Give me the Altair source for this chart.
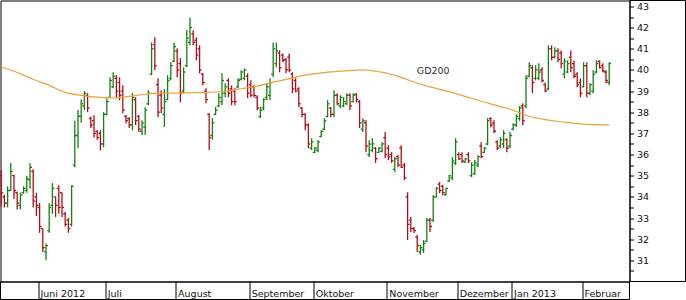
import altair as alt
import pandas as pd

# ---------------- data ----------------
opens = (
    [35.0, 34.0, 33.7, 34.3, 35.0, 34.2, 33.6, 34.2, 34.3, 34.8, 35.2, 34.0]
    + [33.5, 32.5, 31.4, 32.4, 33.6, 34.0, 34.4, 34.2, 33.2, 32.9, 32.7, 35.5, 36.9, 37.8, 38.3, 38.8, 37.7, 37.6, 37.1, 37.0, 36.5]
    + [37.9, 38.7, 39.2, 39.6, 39.4, 39.0, 37.8, 37.7, 37.4, 38.6, 37.8, 37.1, 37.3, 38.4, 39.8, 41.2, 39.3, 38.8, 37.9, 38.6, 39.6, 40.4]
    + [40.9, 40.3, 39.0, 40.2, 41.3, 41.7, 41.4, 41.0, 39.8, 39.0, 37.9, 36.9, 37.9, 38.3, 38.5, 38.9, 39.5, 39.1, 39.0, 39.2, 39.55, 39.6, 39.7]
    + [39.3, 39.2, 38.7, 37.8, 38.2, 38.7, 38.8, 39.8, 40.3, 40.8, 40.7, 40.5, 40.6, 39.8, 39.5, 39.1, 38.2, 37.9, 37.4, 36.3]
    + [36.1, 36.2, 36.85, 37.2, 37.8, 38.2, 37.9, 38.8, 38.3, 38.3, 38.4, 38.8, 38.5, 38.85, 38.5, 37.2, 37.5, 36.0, 36.2, 36.3, 36.1, 36.15, 36.8]
    + [36.3, 36.0, 35.3, 35.9, 36.3, 35.5, 34.0, 32.9, 32.5, 32.1, 31.4, 31.5, 31.9, 32.9, 32.9, 34.0, 34.6, 34.5, 34.1, 34.75, 34.9, 35.6]
    + [36.0, 36.0, 35.65, 36.0, 35.0, 35.1, 35.5, 36.4, 36.1, 36.5, 37.7, 37.5, 36.6, 36.4, 36.5, 36.7, 36.4]
    + [37.2, 37.4, 37.7, 38.3, 38.3, 39.7, 40.1, 39.6, 39.6, 40.0, 39.3, 39.1, 41.0, 40.6, 40.9, 40.8, 39.8, 39.9, 40.6, 40.3, 39.8, 39.4]
    + [39.2, 40.2, 38.9, 39.0, 39.9, 40.4, 40.2, 39.9, 39.4]
)
highs = (
    [35.26, 34.1, 34.5, 35.6, 35.05, 34.25, 34.2, 34.5, 35.0, 35.6, 35.3, 34.2]
    + [33.7, 32.5, 31.8, 33.7, 34.65, 34.0, 34.55, 34.2, 33.3, 33.0, 34.55, 37.6, 38.1, 38.6, 39.0, 38.9, 37.8, 37.86, 37.15, 37.15, 38.0]
    + [38.66, 39.65, 39.89, 39.75, 39.65, 39.27, 37.86, 37.76, 38.9, 38.71, 37.86, 37.62, 38.24, 39.04, 41.3, 41.54, 39.6, 39.04, 39.1, 39.75, 40.36, 41.3]
    + [41.02, 40.55, 40.12, 41.87, 42.48, 41.87, 41.54, 41.16, 39.84, 39.13, 37.95, 37.72, 38.24, 38.9, 39.84, 39.37, 39.6, 39.27, 39.13, 39.6, 39.98, 40.07, 39.84]
    + [39.51, 39.27, 38.8, 38.24, 38.66, 39.37, 39.6, 41.3, 41.3, 40.92, 40.78, 40.55, 40.78, 39.89, 39.6, 39.18, 38.24, 37.95, 37.48, 36.77]
    + [36.35, 36.68, 37.15, 37.72, 38.57, 38.24, 39.04, 38.9, 38.8, 38.71, 38.9, 38.9, 38.9, 38.9, 38.57, 37.72, 37.62, 36.68, 36.77, 36.35, 36.35, 36.58, 37.06]
    + [36.44, 36.11, 35.88, 35.97, 36.44, 35.6, 34.22, 33.05, 32.57, 32.2, 31.73, 31.96, 33.0, 33.0, 34.08, 34.46, 34.7, 34.56, 34.42, 35.03, 35.88, 36.77]
    + [36.11, 36.11, 35.83, 36.11, 35.64, 35.74, 35.97, 36.58, 36.35, 37.72, 37.76, 37.62, 36.68, 36.82, 37.15, 36.77, 37.06]
    + [37.48, 37.9, 38.3, 38.42, 39.75, 40.36, 40.22, 40.22, 40.31, 40.12, 39.41, 41.16, 41.16, 41.07, 41.02, 40.92, 40.55, 40.45, 40.92, 40.45, 39.89, 39.6]
    + [40.36, 40.36, 39.37, 39.98, 40.45, 40.45, 40.31, 39.98, 40.36]
)
lows = (
    [33.55, 33.5, 33.5, 34.3, 33.9, 33.4, 33.4, 34.15, 34.2, 34.4, 33.5, 33.1]
    + [32.3, 31.4, 31.0, 32.3, 33.2, 33.05, 33.2, 33.05, 32.6, 32.3, 32.6, 35.4, 36.3, 37.5, 38.1, 38.0, 37.25, 36.8, 36.7, 36.2, 36.35]
    + [37.86, 38.66, 39.13, 38.71, 38.57, 37.95, 37.48, 37.25, 37.15, 37.39, 37.06, 36.92, 36.92, 38.33, 39.75, 39.98, 37.76, 37.95, 37.3, 38.57, 39.51, 40.36]
    + [39.65, 38.47, 38.9, 40.12, 41.16, 41.16, 40.45, 39.84, 39.27, 38.42, 36.21, 36.7, 37.86, 38.24, 38.33, 38.71, 38.71, 38.33, 38.33, 39.13, 39.51, 39.51, 38.66]
    + [38.71, 38.71, 38.09, 37.72, 38.09, 38.57, 38.57, 39.65, 40.12, 39.89, 40.36, 39.84, 39.89, 38.9, 38.94, 38.24, 37.76, 37.15, 36.3, 36.21]
    + [36.07, 36.11, 36.82, 37.15, 37.76, 37.76, 37.76, 38.33, 38.19, 38.24, 38.33, 38.09, 38.47, 38.47, 37.25, 37.06, 36.11, 35.88, 36.11, 35.6, 36.07, 36.11, 35.83]
    + [35.74, 35.6, 35.17, 35.4, 35.36, 34.79, 31.96, 32.34, 32.29, 31.4, 31.26, 31.35, 31.87, 32.34, 32.81, 33.99, 34.18, 34.08, 34.08, 34.7, 34.79, 35.5]
    + [35.74, 35.6, 35.6, 35.6, 34.93, 35.03, 35.4, 35.83, 36.07, 36.44, 37.29, 37.01, 36.21, 36.3, 36.3, 36.11, 36.3]
    + [37.15, 37.3, 37.6, 37.39, 38.19, 39.65, 38.9, 39.51, 39.51, 39.41, 38.94, 39.04, 40.45, 40.55, 40.36, 40.07, 39.6, 39.84, 39.89, 39.6, 39.18, 38.71]
    + [39.18, 38.71, 38.8, 38.9, 39.84, 40.07, 39.89, 39.37, 39.27]
)
closes = (
    [34.2, 33.7, 34.3, 35.2, 34.3, 33.7, 34.1, 34.4, 34.85, 35.4, 33.8, 33.6]
    + [32.6, 31.6, 31.7, 33.5, 34.4, 33.6, 33.5, 33.5, 32.7, 32.5, 34.5, 36.9, 37.8, 38.4, 38.9, 38.2, 37.4, 37.0, 36.8, 36.5, 37.9]
    + [38.5, 39.5, 39.7, 39.0, 38.8, 38.1, 37.6, 37.4, 38.7, 37.6, 37.2, 37.5, 38.1, 38.9, 41.0, 40.2, 38.0, 38.2, 38.5, 39.5, 40.2, 41.1]
    + [40.0, 38.9, 39.9, 41.5, 42.0, 41.3, 40.7, 40.0, 39.4, 38.6, 36.8, 37.5, 38.1, 38.7, 39.5, 39.2, 38.9, 38.5, 38.5, 39.5, 39.9, 40.0, 38.9]
    + [38.8, 38.8, 38.2, 38.1, 38.6, 39.2, 39.4, 41.0, 40.9, 40.1, 40.45, 40.0, 40.0, 39.1, 39.0, 38.4, 37.9, 37.4, 36.5, 36.6]
    + [36.3, 36.6, 37.1, 37.6, 38.4, 37.9, 38.8, 38.4, 38.7, 38.5, 38.8, 38.3, 38.8, 38.6, 37.5, 37.6, 36.4, 36.5, 36.5, 35.8, 36.3, 36.5, 36.0]
    + [35.9, 35.7, 35.8, 35.5, 35.4, 34.9, 32.7, 32.5, 32.4, 31.7, 31.6, 31.8, 32.9, 32.6, 34.0, 34.4, 34.3, 34.2, 34.4, 35.0, 35.7, 36.6]
    + [35.8, 35.7, 35.8, 35.7, 35.5, 35.6, 35.9, 35.9, 36.3, 37.6, 37.4, 37.1, 36.3, 36.7, 37.0, 36.3, 36.9]
    + [37.4, 37.8, 38.2, 37.6, 39.6, 40.2, 39.4, 40.0, 39.9, 39.5, 39.0, 41.0, 40.6, 40.9, 40.5, 40.3, 40.4, 40.3, 40.1, 39.7, 39.3, 38.9]
    + [40.2, 38.9, 39.3, 39.8, 40.3, 40.1, 39.95, 39.5, 40.3]
)

month_labels = ["Juni 2012", "Juli", "August", "September", "Oktober",
                "November", "Dezember", "Jan 2013", "Februar"]
month_first_bar = [12, 33, 55, 78, 98, 121, 143, 160, 182]

gd_bar = [0, 5, 10, 15, 20, 25, 30, 35, 40, 45, 50, 55, 60, 65, 70, 75, 80, 85, 90, 95,
          100, 105, 110, 113, 115, 120, 125, 130, 135, 140, 145, 150, 155, 160, 165,
          170, 175, 180, 185, 190]
gd_val = [40.15, 39.88, 39.56, 39.27, 38.94, 38.8, 38.71, 38.68, 38.75, 38.85, 38.9,
          38.9, 38.92, 38.94, 38.99, 39.11, 39.23, 39.42, 39.58, 39.75, 39.86, 39.93,
          39.98, 40.0, 39.98, 39.86, 39.65, 39.37, 39.16, 38.97, 38.75, 38.52, 38.31,
          38.09, 37.81, 37.65, 37.55, 37.46, 37.41, 37.4]

gd_label = "GD200"
gd_label_bar = 135
gd_label_price = 39.93

# ---------------- styling ----------------
GREEN = "#138013"
RED = "#b00d18"
ORANGE = "#eea237"
FONT = "DejaVu Sans"

W, H = 629, 281

df = pd.DataFrame({"i": list(range(len(opens))), "open": opens, "high": highs,
                   "low": lows, "close": closes})
df["dir"] = ["up" if c >= o else "down" for o, c in zip(opens, closes)]
gd = pd.DataFrame({"i": gd_bar, "v": gd_val})
lab = pd.DataFrame({"i": [gd_label_bar], "v": [gd_label_price], "t": [gd_label]})

sep_vals = [b - 0.5 for b in month_first_bar]
expr = "''"
for v, name in reversed(list(zip(sep_vals, month_labels))):
    expr = f"datum.value == {v} ? '{name}' : ({expr})"

xscale = alt.Scale(domain=[-0.21875, 196.34375], nice=False, zero=False)
yscale = alt.Scale(domain=[30.0, 43.28], nice=False, zero=False)

ytick_vals = [30.5 + 0.5 * k for k in range(26)]

xaxis = alt.Axis(values=sep_vals, tickCount=50, labelExpr=expr, tickSize=18,
                 tickColor="black", tickWidth=1, domainColor="black", labelAlign="left",
                 labelOffset=2, labelBaseline="alphabetic", labelPadding=-3,
                 labelFont=FONT, labelFontSize=9.5, labelColor="#111",
                 labelOverlap=False, labelFlush=False, grid=False, title=None)
yaxis = alt.Axis(orient="right", values=ytick_vals, tickCount=100,
                 labelExpr="datum.value % 1 == 0 ? format(datum.value, 'd') : ''",
                 tickSize=4, tickColor="black", domainColor="black", labelPadding=3,
                 labelFont=FONT, labelFontSize=9.5, labelColor="#111",
                 labelOverlap=False, labelFlush=False, grid=False, title=None)

color = alt.Color("dir:N", scale=alt.Scale(domain=["up", "down"], range=[GREEN, RED]),
                  legend=None)

SW = 1.3
base = alt.Chart(df)
hl = base.mark_rule(strokeWidth=SW).encode(
    x=alt.X("i:Q", scale=xscale, axis=xaxis),
    y=alt.Y("low:Q", scale=yscale, axis=yaxis),
    y2="high:Q",
    color=color,
)
op = base.mark_rule(strokeWidth=SW, xOffset=-2).encode(
    x="i:Q", x2="i:Q", y="open:Q", color=color)
cl = base.mark_rule(strokeWidth=SW, x2Offset=2).encode(
    x="i:Q", x2="i:Q", y="close:Q", color=color)

line = alt.Chart(gd).mark_line(color=ORANGE, strokeWidth=1.2, interpolate="monotone").encode(
    x="i:Q", y="v:Q")
text = alt.Chart(lab).mark_text(font=FONT, fontSize=9.5, color="#333", align="center",
                                baseline="middle").encode(x="i:Q", y="v:Q", text="t:N")

one = pd.DataFrame({"a": [0]})
def rule(**kw):
    return alt.Chart(one).mark_rule(color="black", strokeWidth=1).encode(**kw)

frame = [
    rule(x=alt.value(W), x2=alt.value(W + 56), y=alt.value(0)),
    rule(x=alt.value(W + 56), y=alt.value(0), y2=alt.value(H)),
    rule(x=alt.value(W), x2=alt.value(W + 56), y=alt.value(H)),
    rule(x=alt.value(0), x2=alt.value(W), y=alt.value(H + 18)),
    rule(x=alt.value(0), y=alt.value(H), y2=alt.value(H + 18)),
    rule(x=alt.value(W), y=alt.value(H), y2=alt.value(H + 18)),
]

chart = alt.layer(hl, op, cl, line, text, *frame).properties(
    width=W, height=H,
    autosize=alt.AutoSizeParams(type="none"),
    padding={"left": 0.5, "top": 0.5, "right": 56.5, "bottom": 18.5},
    background="white",
).configure_view(stroke="black", strokeWidth=1)

chart.save("out.html", embed_options={"renderer": "svg", "actions": False})
